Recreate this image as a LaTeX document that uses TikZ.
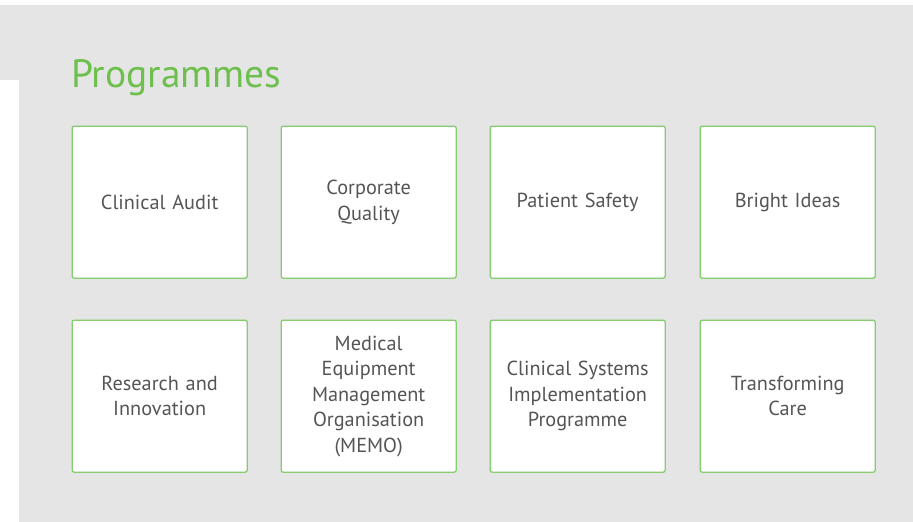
\documentclass[tikz,border=0pt]{standalone}
\usepackage{fontspec}
\setmainfont{PT Sans}
\definecolor{bggray}{HTML}{E5E5E5}
\definecolor{titlegreen}{HTML}{6DC04E}
\definecolor{boxgreen}{HTML}{84CE70}
\definecolor{txtgray}{HTML}{555555}
\tikzset{
  prog/.style={draw=boxgreen, line width=1.3pt, fill=white, rounded corners=2pt,
    minimum width=175pt, minimum height=152pt, inner sep=0pt,
    align=center, text width=160pt, text=txtgray,
    font=\fontsize{20.3}{25.5}\selectfont, anchor=north west}
}
\begin{document}
\begin{tikzpicture}[x=1pt,y=-1pt]
\useasboundingbox (0,0) rectangle (913,522);
\fill[white] (0,0) rectangle (913,522);
\fill[bggray] (0,5) rectangle (913,522);
\fill[white] (0,80) rectangle (19,522);
\node[anchor=base west, inner sep=0pt, text=titlegreen, font=\fontsize{39.5}{42}\selectfont] (title) at (71,87) {Programmes};
\node[prog] (ca) at (71.5,125.5) {Clinical Audit};
\node[prog] (cq) at (280.5,125.5) {Corporate\\Quality};
\node[prog] (ps) at (489.5,125.5) {Patient Safety};
\node[prog] (bi) at (699.5,125.5) {Bright Ideas};
\node[prog] (ri) at (71.5,319.5) {Research and\\Innovation};
\node[prog] (memo) at (280.5,319.5) {Medical\\Equipment\\Management\\Organisation\\(MEMO)};
\node[prog] (csi) at (489.5,319.5) {Clinical Systems\\Implementation\\Programme};
\node[prog] (tc) at (699.5,319.5) {Transforming\\Care};
\end{tikzpicture}
\end{document}
